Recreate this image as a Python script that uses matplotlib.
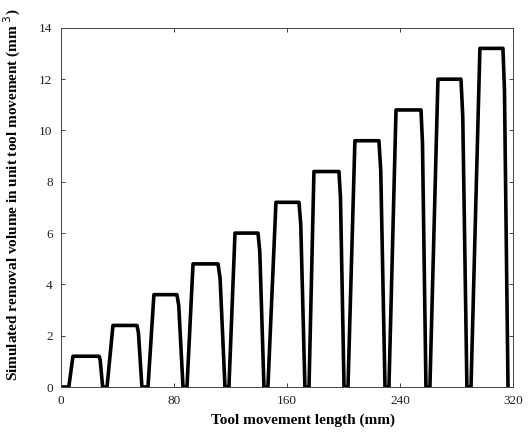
import numpy as np
import matplotlib
matplotlib.use("Agg")
import matplotlib.pyplot as plt

plt.rcParams['font.family'] = ['Liberation Serif', 'DejaVu Serif']

# removal volume plateau of each pass (mm^3)
heights = [1.2, 2.4, 3.6, 4.8, 6.0, 7.2, 8.4, 9.6, 10.8, 12.0, 13.2]
# tool position (mm): last zero before rise, start of plateau, end of plateau, first zero after fall
rise_start = [5.5, 32.6, 61.6, 89.2, 118.9, 146.5, 175.6, 203.2, 232.2, 261.2, 290.3]
top_start = [8.5, 36.8, 65.8, 93.5, 123.2, 152.2, 179.1, 208.1, 237.2, 266.9, 296.6]
top_end = [27.0, 53.8, 82.1, 111.2, 139.5, 168.5, 196.8, 225.1, 254.9, 283.2, 312.9]
fall_end = [29.5, 57.3, 86.4, 116.1, 143.7, 172.7, 200.4, 229.4, 258.4, 287.4, 316.5]

xticks = [0, 80, 160, 240, 320]
yticks = [0, 2, 4, 6, 8, 10, 12, 14]

x = [0.0]
y = [0.0]
for h, a, b, c, d in zip(heights, rise_start, top_start, top_end, fall_end):
    # slight shoulder on the falling edge before the steep drop
    x += [a, b, c, c + 0.3 * (d - c), d]
    y += [0.0, h, h, 0.88 * h, 0.0]

fig = plt.figure(figsize=(5.28, 4.38), dpi=100)
ax = fig.add_axes([0.1155, 0.1164, 0.856, 0.82])

ax.plot(x, y, color='black', lw=2.6, solid_joinstyle='round', solid_capstyle='round')

ax.set_xlim(0, 320)
ax.set_ylim(0, 14)
ax.set_xticks(xticks)
ax.set_yticks(yticks)
ax.tick_params(direction='in', length=3, width=0.6, top=True, right=True,
               labelsize=9.5, pad=6, colors='#222222')
for s in ax.spines.values():
    s.set_linewidth(0.7)
    s.set_color('#444444')

ax.set_xlabel('Tool movement length (mm)', fontsize=11, fontweight='bold')
ax.xaxis.set_label_coords(0.535, -0.075)
ax.set_ylabel('Simulated removal volume in unit tool movement (mm$^{\\ 3}$)',
              fontsize=11, fontweight='bold')
ax.yaxis.set_label_coords(-0.084, 0.535)

fig.savefig('out.png', dpi=100)
